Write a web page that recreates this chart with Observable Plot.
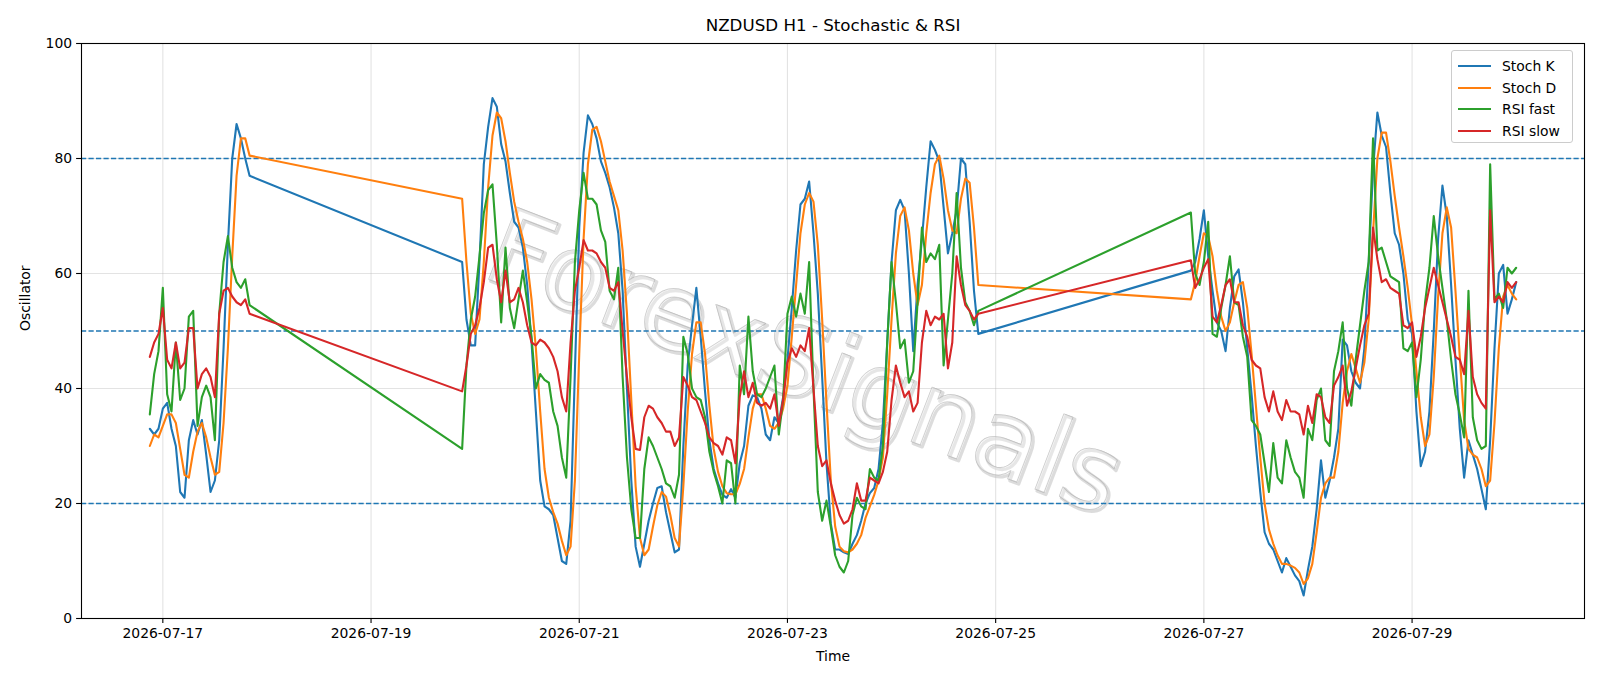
<!DOCTYPE html>
<html>
<head>
<meta charset="utf-8">
<script src="https://cdn.jsdelivr.net/npm/d3@7"></script>
<script src="https://cdn.jsdelivr.net/npm/@observablehq/plot@0.6"></script>
<style>
  html, body { margin: 0; padding: 0; background: #fff; }
  #wrap { position: relative; width: 1600px; height: 686px; font-family: "DejaVu Sans", sans-serif; }
  #legend { position: absolute; left: 1451px; top: 50px; width: 120px; height: 91px;
            border: 1px solid #cccccc; border-radius: 3px; background: rgba(255,255,255,0.8); box-sizing: content-box; }
  .lg-row { position: absolute; left: 0; height: 20px; width: 120px; }
  .lg-line { position: absolute; left: 6px; top: 9px; width: 33px; height: 2px; }
  .lg-text { position: absolute; left: 50px; top: 0; font-size: 13.9px; line-height: 20px; color: #000; white-space: nowrap; }
</style>
</head>
<body>
<div id="wrap"><div id="chart"></div><div id="legend"></div></div>
<script>
// ---------------- data ----------------
const chartTitle = "NZDUSD H1 - Stochastic & RSI";
const xLabel = "Time";
const yLabel = "Oscillator";
const watermarkText = "ForexSignals";

// hourly segments (UTC): start of each trading block and number of bars
const segmentStarts = ["2026-07-16T21:00:00Z", "2026-07-19T21:00:00Z", "2026-07-26T21:00:00Z"];
const segmentLengths = [24, 120, 76];

const seriesNames = ["Stoch K", "Stoch D", "RSI fast", "RSI slow"];

const stochK = [
  // block 1
  33,32,33,36.5,37.5,33,30,22,21,31,34.5,32,34.5,28.5,22,24,31,47,65,80,86,83.5,80,77,
  // block 2
  62,52,47.5,47.5,62,79,85.5,90.5,89,82.5,
  79.5,74,69,68,64.5,58,48,36,24,19.5,
  19,18,14,10,9.5,17,43,68,81,87.5,
  86,83.5,79.5,77.5,75,71.5,67,57,40,24,
  12.5,9,13,17,20,22.7,23,18.5,15,11.5,
  12,30,44,51,57.5,49,39.5,31,26,23.5,
  21.5,21,22.5,21,27,30,37,38.8,38.5,36.5,
  32,31,35,34,38.5,45,54,64,72,73,
  76,67,56.5,42,27,16.5,12,12,11.5,11.2,
  13,14.5,17,20,21.8,22.7,26,34,48,62,
  71,72.8,71,60,46.5,58,66,75,83,81.5,
  79.5,71.5,63.5,67,71,80,79,69,57,49.5,
  // block 3
  60.5,62,66,71,63,57,51.5,50,46.5,54,
  59.5,60.7,55,47,39,30,22,15,13,12,
  10,8,10.5,9,7.5,6.5,4,8.5,12.5,19,
  27.5,21,24,28,33,48.5,47.5,43,41,40,
  47,62,78,88,84,82,74,67,65,60,
  52,49.5,36,26.5,29,36,50,66,75.3,70,
  58,45,33,24.5,31,28.5,26,22.5,19,31,
  47,60,61.5,53,55.5,58.5
];

const stochD = [
  30,32,31.5,33.5,35.5,35.5,34,29.5,25,24.5,29,32.5,34,31.5,28,25,25.5,34,47,63,77,83.5,83.5,80.5,
  73,62,53,49.5,52,62,75,84,88,87,
  83,77.5,72.5,69,66,62,55.5,47,36,26,
  21,18.5,16.5,13.5,11,12.5,24,46,66,79,
  85,85.5,83,79.5,76,73.5,71,64,53,38,
  23,14,11,12,16,19.7,22,21.2,18,14,
  12.5,23,36,46,51.5,51.5,46,37,29.5,25.5,
  23,21.8,21.6,21.6,23.4,26,31.5,36.5,39,39,
  36.5,33.5,33,34,36.5,40.5,49,58,67,72,
  74,72.5,65,52,37.5,24,16,12.5,11.7,11.5,
  12,13,14.5,17.5,19.5,21.5,24,28,39,52,
  63.5,70,71.5,67.5,60,54.5,58,67,74,79,
  80.5,76.5,71,67.5,67,73,76.5,75.8,68,58,
  55.5,58.5,63,67,66.5,63,57,52.5,50,51.5,
  55,58,58.5,54,46,37,28,20,15.5,13,
  11,9.5,9.5,9.2,8.8,8,6,7,9.5,15,
  21,23.5,24.5,24.5,29,37.5,43,46,43.5,41,
  44.5,52,67,80,84.5,84.5,79.5,73.5,68,63,
  57.5,51,43,35,30,32,42,56,67,71.5,
  68,57,45.5,34.5,29.5,28.5,28,26,23,24,
  34,47,56,58,56.5,55.5
];

const rsiFast = [
  35.5,42.5,46.5,57.5,39,36,48,38,40,52.5,53.5,33.5,38.5,40.5,38.5,31,53,62,66.5,61,58.5,57.5,59,54.5,
  29.5,44,52,56,63,70.5,74.5,75.5,65,51.5,
  64.5,54,50.5,55.5,60.5,55,49,40,42.5,41.5,
  41,36,33.5,28,24.5,42,62,71,77.5,73,
  73,72,67.5,65.5,57,55.5,61,42,28,19,
  14,14,26,31.5,30,28,26,23.5,23,21,
  25,49,46,40,38.5,38,35,29,25.5,23,
  20,27.5,27,20,44,39,52.5,43,39,38.5,
  40,42,44,32,38,53,56,52.5,56.5,53,
  62,40,22,17,20.5,16,11,9,8,10,
  18,21,19.5,19,26,24.5,24,30,48,62,
  55,47,48.5,41,43,55,68,62,63.5,62.5,
  65,44,52,60,74,61,55,53.5,51,53.5,
  70.6,60,58,62,69,49.5,49,54,58,63,
  55,54.5,49,45.5,34.5,33.5,32,27,22,30.5,
  24.5,23.5,31,28,25.5,24.5,21,33,31,38,
  40,31,30,43,46.5,51.5,40,37,45,51,
  57,62,83.5,64,64.5,62,59.5,59,58.5,47,
  46.5,48,38.5,45,55,61,70,63,57.5,52,
  45,39,35.5,31.5,57,35,31,29.5,30,79,
  55.5,56.5,54,61,60,61
];

const rsiSlow = [
  45.5,48,49.5,54,45,43.5,48,43.5,44.5,50.5,50.5,40,42.5,43.5,42,38.5,53,57,57.5,56,55,54.5,55.5,53,
  39.5,44,49.5,51,54,58.5,64.5,65,59,55,
  60.5,55,55.5,57.5,55,51,48,47.5,48.5,48,
  47,45.5,43,38.5,36,48,57,61,65.8,64,
  64,63.5,62,61,57.5,57,58.5,50,42,35,
  29.5,29.3,35,37,36.5,35,34,32.5,32.5,30,
  31.5,42,40.5,38.5,38,36,34,31.5,30.5,30,
  28.5,31.5,31,27,38.5,43,38.5,41,37.5,37,
  37.5,36.5,39,33.5,38,44.5,47,45.5,47.5,46.5,
  50.5,40,30,26.5,27.5,23.5,20.5,18,16.5,17,
  19,23.5,20.5,20.5,24.5,24,23.5,25.5,29,38,
  44,41,38.5,39.5,36,37.5,48,53.5,51,52.5,
  52,53,43.5,48,63,58,54.5,53.5,52,53,
  62.3,57.5,59,61,62.5,52.5,51.5,54.5,58,59,
  55,55,51,49,45,44,43.5,38.5,36,39.5,
  36,34.5,38,36,36,35.5,32,37,34,39,
  38.5,35,34,40.5,42,44,37,39.5,43.5,47.5,
  51,53,68,62.5,58.5,59,57.5,57,56.5,51,
  50.5,51.5,45.5,49,54,57.5,61,58,55,52,
  49,45.5,45,42.5,53.5,42,39,37.5,36.5,71,
  55,56,55,58.5,57.5,58.5
];

const levelLines = [20, 50, 80];
const yTickValues = [0, 20, 40, 60, 80, 100];
const xTickLabels = ["2026-07-17","2026-07-19","2026-07-21","2026-07-23","2026-07-25","2026-07-27","2026-07-29"];

// ---------------- styles ----------------
const seriesColors = ["#1f77b4", "#ff7f0e", "#2ca02c", "#d62728"];

// ---------------- build ----------------
const HOUR = 3600 * 1000;
const times = [];
segmentStarts.forEach((s, k) => {
  const start = Date.parse(s);
  for (let h = 0; h < segmentLengths[k]; h++) times.push(new Date(start + h * HOUR));
});
const seriesValues = [stochK, stochD, rsiFast, rsiSlow];
const seriesRows = seriesValues.map((vals, k) => vals.map((v, i) => ({t: times[i], v, s: seriesNames[k]})));

const t0 = +times[0], t1 = +times[times.length - 1];
const pad = (t1 - t0) * 0.05;
const xDomain = [new Date(t0 - pad), new Date(t1 + pad)];
const xTicks = xTickLabels.map(d => new Date(d + "T00:00:00Z"));

const chart = Plot.plot({
  width: 1600,
  height: 686,
  marginLeft: 81,
  marginRight: 16,
  marginTop: 43,
  marginBottom: 68,
  style: {fontFamily: "DejaVu Sans, sans-serif", fontSize: "13.9px", color: "#000", background: "#fff"},
  x: {type: "utc", domain: xDomain},
  y: {domain: [0, 100]},
  marks: [
    Plot.gridX(xTicks, {stroke: "#b0b0b0", strokeOpacity: 0.35, strokeWidth: 1.1}),
    Plot.gridY(yTickValues, {stroke: "#b0b0b0", strokeOpacity: 0.35, strokeWidth: 1.1}),
    Plot.text([watermarkText], {text: d => d, frameAnchor: "middle", dx: -27, dy: 35, rotate: 21,
      fontSize: 106, fill: "none", stroke: "#c4c4c4", strokeWidth: 3.2, strokeOpacity: 0.6}),
    Plot.text([watermarkText], {text: d => d, frameAnchor: "middle", dx: -29, dy: 33, rotate: 21,
      fontSize: 106, fill: "#ffffff", fillOpacity: 0.3, stroke: "#9a9a9a", strokeWidth: 1, strokeOpacity: 0.55}),
    Plot.ruleY(levelLines, {stroke: "#1f77b4", strokeWidth: 1.4, strokeDasharray: "5.2,2.3"}),
    ...seriesRows.map((rows, k) => Plot.line(rows, {x: "t", y: "v", stroke: seriesColors[k], strokeWidth: 2.1})),
    Plot.frame({stroke: "#000", strokeWidth: 1.1}),
    Plot.axisX({ticks: xTicks, tickFormat: d3.utcFormat("%Y-%m-%d"), tickSize: 4.9, tickPadding: 4.5, label: null, strokeWidth: 1.1}),
    Plot.axisY({ticks: yTickValues, tickSize: 4.9, tickPadding: 4.5, label: null, strokeWidth: 1.1}),
    Plot.text([chartTitle], {text: d => d, frameAnchor: "top", dy: -17.5, fontSize: 16.7, lineAnchor: "middle"}),
    Plot.text([xLabel], {text: d => d, frameAnchor: "bottom", dy: 38, fontSize: 13.9, lineAnchor: "middle"}),
    Plot.text([yLabel], {text: d => d, frameAnchor: "left", dx: -56, rotate: -90, fontSize: 13.9, lineAnchor: "middle"})
  ]
});
document.getElementById("chart").appendChild(chart);

// legend
const legend = document.getElementById("legend");
const rowTops = [5, 26.5, 48, 69.5];
seriesNames.forEach((name, k) => {
  const row = document.createElement("div");
  row.className = "lg-row";
  row.style.top = rowTops[k] + "px";
  const line = document.createElement("div");
  line.className = "lg-line";
  line.style.background = seriesColors[k];
  const txt = document.createElement("div");
  txt.className = "lg-text";
  txt.textContent = name;
  row.appendChild(line); row.appendChild(txt);
  legend.appendChild(row);
});
</script>
</body>
</html>
